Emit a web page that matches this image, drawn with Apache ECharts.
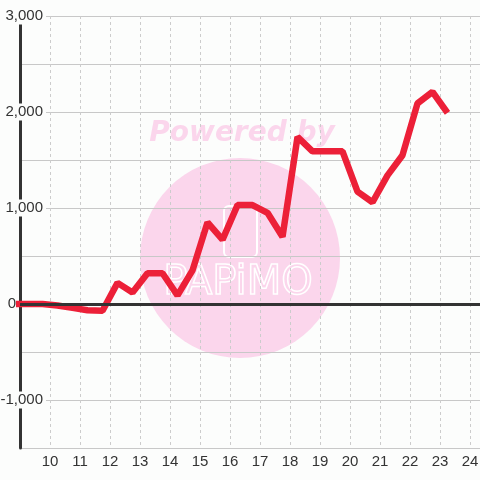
<!DOCTYPE html>
<html>
<head>
<meta charset="utf-8">
<title>line chart</title>
<script src="https://cdn.jsdelivr.net/npm/echarts@6/dist/echarts.min.js"></script>
<style>
  html, body { margin: 0; padding: 0; background: #fcfdfc; }
  #chart { width: 480px; height: 480px; }
</style>
</head>
<body>
<div id="chart"></div>
<script>
// data (x in hours, y values)
const xValues = [8.75, 9.25, 9.75, 10.25, 10.75, 11.25, 11.75, 12.25, 12.75, 13.25,
  13.75, 14.25, 14.75, 15.25, 15.75, 16.25, 16.75, 17.25, 17.75, 18.25,
  18.75, 19.25, 19.75, 20.25, 20.75, 21.25, 21.75, 22.25, 22.75, 23.25];
const yValues = [0, 0, 0, -15, -40, -65, -70, 220, 120, 320,
  320, 90, 350, 850, 670, 1030, 1030, 950, 700, 1740,
  1590, 1590, 1590, 1170, 1060, 1340, 1550, 2090, 2210, 1990];
const yTickLabels = [-1000, 0, 1000, 2000, 3000];

const bg = '#fcfdfc';
const chart = echarts.init(document.getElementById('chart'));

const option = {
  backgroundColor: bg,
  animation: false,
  grid: { left: 20, right: 0, top: 16, bottom: 32, outerBoundsMode: 'none', containLabel: false },
  // watermark behind everything
  graphic: [
    { type: 'circle', z: -10, shape: { cx: 240, cy: 258, r: 100 }, style: { fill: '#fbd6ec' } },
    { type: 'text', z: -10, x: 242, y: 134,
      style: { text: 'Powered by', fill: '#fbd6ec', font: 'italic bold 28px "DejaVu Sans"', align: 'center', verticalAlign: 'middle' } },
    { type: 'rect', z: -9, shape: { x: 224, y: 206, width: 33, height: 51, r: 5 },
      style: { fill: 'none', stroke: '#ffffff', lineWidth: 2 } },
    { type: 'text', z: -9, x: 238, y: 284,
      style: { text: 'PAPiMO', fill: 'none', stroke: '#ffffff', lineWidth: 1.5, font: '40px "DejaVu Sans"', align: 'center', verticalAlign: 'middle' } }
  ],
  xAxis: {
    type: 'value',
    min: 9,
    max: 9 + 460 / 30,
    interval: 1,
    axisLine: { show: false },
    axisTick: { show: false },
    axisLabel: {
      showMinLabel: false,
      showMaxLabel: false,
      margin: 6,
      color: '#333',
      fontSize: 15,
      fontFamily: 'Liberation Sans'
    },
    splitLine: { show: true, lineStyle: { color: '#cccccc', type: [3, 3], width: 1 } }
  },
  yAxis: {
    type: 'value',
    min: -1500,
    max: 3000,
    interval: 500,
    axisLine: { show: true, lineStyle: { color: '#333', width: 3 } },
    axisTick: { show: false },
    axisLabel: {
      margin: -26,
      formatter: function (v) {
        if (yTickLabels.indexOf(v) < 0) return '';
        if (v === 0) return '{z|0}';
        return '{a|' + v.toLocaleString('en-US') + '}';
      },
      rich: {
        a: { backgroundColor: bg, padding: [1, 3, 1, 3], color: '#333', fontSize: 15, fontFamily: 'Liberation Sans' },
        z: { padding: [0, 30, 0, 0], color: '#333', fontSize: 15, fontFamily: 'Liberation Sans' }
      }
    },
    splitLine: { show: true, lineStyle: { color: '#c8c8c8', width: 1 } }
  },
  series: [
    {
      // zero line, kept under the data line
      type: 'line',
      z: 1,
      data: [],
      markLine: {
        silent: true,
        symbol: 'none',
        label: { show: false },
        lineStyle: { color: '#333', width: 3, type: 'solid' },
        data: [{ yAxis: 0 }]
      }
    },
    {
      type: 'line',
      z: 3,
      symbol: 'none',
      lineStyle: { color: '#ec2038', width: 6.5 },
      data: xValues.map((x, i) => [x, yValues[i]])
    }
  ]
};

chart.setOption(option);
</script>
</body>
</html>
